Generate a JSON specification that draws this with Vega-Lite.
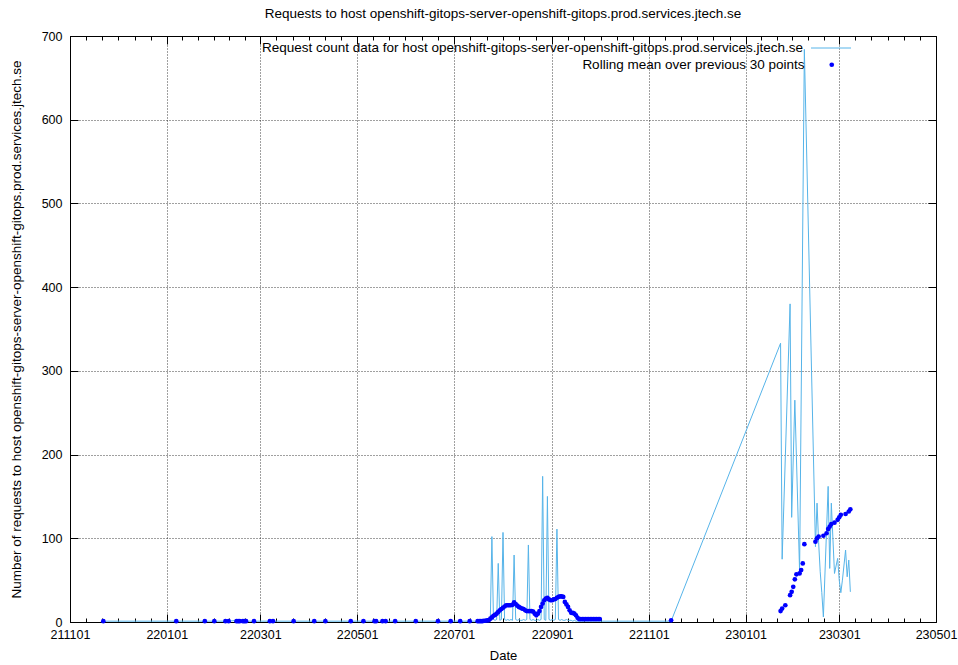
{
  "$schema": "https://vega.github.io/schema/vega-lite/v6.json",
  "width": 866,
  "height": 586,
  "autosize": {"type": "none"},
  "padding": {"left": 70, "top": 36, "right": 22, "bottom": 43},
  "background": "white",
  "title": {"text": "Requests to host openshift-gitops-server-openshift-gitops.prod.services.jtech.se", "fontSize": 13.5, "fontWeight": "normal", "font": "Liberation Sans", "color": "#000", "offset": 7, "anchor": "middle"},
  "datasets": {
    "counts": [
      {"date": "2021-11-22", "count": 1}, {"date": "2022-01-07", "count": 1}, {"date": "2022-01-25", "count": 1}, {"date": "2022-01-31", "count": 1},
      {"date": "2022-02-07", "count": 1}, {"date": "2022-02-09", "count": 1}, {"date": "2022-02-14", "count": 2}, {"date": "2022-02-15", "count": 1},
      {"date": "2022-02-16", "count": 1}, {"date": "2022-02-18", "count": 2}, {"date": "2022-02-19", "count": 1}, {"date": "2022-02-20", "count": 1},
      {"date": "2022-02-25", "count": 1}, {"date": "2022-03-07", "count": 1}, {"date": "2022-03-09", "count": 1}, {"date": "2022-03-22", "count": 1},
      {"date": "2022-04-04", "count": 1}, {"date": "2022-04-11", "count": 1}, {"date": "2022-04-27", "count": 1}, {"date": "2022-05-05", "count": 1},
      {"date": "2022-05-12", "count": 1}, {"date": "2022-05-13", "count": 1}, {"date": "2022-05-17", "count": 1}, {"date": "2022-05-19", "count": 1},
      {"date": "2022-05-25", "count": 1}, {"date": "2022-06-07", "count": 1}, {"date": "2022-06-21", "count": 1}, {"date": "2022-06-29", "count": 1},
      {"date": "2022-07-05", "count": 1}, {"date": "2022-07-11", "count": 1},
      {"date": "2022-07-16", "count": 1}, {"date": "2022-07-17", "count": 2}, {"date": "2022-07-18", "count": 1}, {"date": "2022-07-19", "count": 2},
      {"date": "2022-07-20", "count": 3}, {"date": "2022-07-21", "count": 2}, {"date": "2022-07-22", "count": 3}, {"date": "2022-07-23", "count": 2},
      {"date": "2022-07-24", "count": 3}, {"date": "2022-07-25", "count": 102}, {"date": "2022-07-26", "count": 3}, {"date": "2022-07-27", "count": 2},
      {"date": "2022-07-28", "count": 3}, {"date": "2022-07-29", "count": 70}, {"date": "2022-07-30", "count": 2}, {"date": "2022-07-31", "count": 3},
      {"date": "2022-08-01", "count": 107}, {"date": "2022-08-02", "count": 3}, {"date": "2022-08-03", "count": 2}, {"date": "2022-08-04", "count": 3},
      {"date": "2022-08-05", "count": 2}, {"date": "2022-08-06", "count": 3}, {"date": "2022-08-07", "count": 2}, {"date": "2022-08-08", "count": 80},
      {"date": "2022-08-09", "count": 3}, {"date": "2022-08-10", "count": 2}, {"date": "2022-08-11", "count": 3}, {"date": "2022-08-12", "count": 2},
      {"date": "2022-08-13", "count": 2}, {"date": "2022-08-14", "count": 3}, {"date": "2022-08-15", "count": 2}, {"date": "2022-08-16", "count": 3},
      {"date": "2022-08-17", "count": 92}, {"date": "2022-08-18", "count": 3}, {"date": "2022-08-19", "count": 2}, {"date": "2022-08-20", "count": 3},
      {"date": "2022-08-21", "count": 2}, {"date": "2022-08-22", "count": 2}, {"date": "2022-08-23", "count": 3}, {"date": "2022-08-24", "count": 2},
      {"date": "2022-08-25", "count": 3}, {"date": "2022-08-26", "count": 174}, {"date": "2022-08-27", "count": 3}, {"date": "2022-08-28", "count": 2},
      {"date": "2022-08-29", "count": 150}, {"date": "2022-08-30", "count": 3}, {"date": "2022-08-31", "count": 2}, {"date": "2022-09-01", "count": 3},
      {"date": "2022-09-02", "count": 2}, {"date": "2022-09-03", "count": 3}, {"date": "2022-09-04", "count": 111}, {"date": "2022-09-05", "count": 3},
      {"date": "2022-09-06", "count": 2}, {"date": "2022-09-07", "count": 3}, {"date": "2022-09-08", "count": 2}, {"date": "2022-09-09", "count": 2},
      {"date": "2022-09-10", "count": 3}, {"date": "2022-09-11", "count": 2}, {"date": "2022-09-12", "count": 2}, {"date": "2022-09-13", "count": 2},
      {"date": "2022-09-14", "count": 1}, {"date": "2022-09-15", "count": 2}, {"date": "2022-09-16", "count": 1}, {"date": "2022-09-17", "count": 1},
      {"date": "2022-09-18", "count": 1}, {"date": "2022-09-19", "count": 1}, {"date": "2022-09-20", "count": 1}, {"date": "2022-09-21", "count": 1},
      {"date": "2022-09-22", "count": 1}, {"date": "2022-09-23", "count": 1}, {"date": "2022-09-24", "count": 1}, {"date": "2022-09-25", "count": 1},
      {"date": "2022-09-26", "count": 1}, {"date": "2022-09-27", "count": 1}, {"date": "2022-09-28", "count": 1}, {"date": "2022-09-29", "count": 1},
      {"date": "2022-09-30", "count": 1}, {"date": "2022-10-01", "count": 1}, {"date": "2022-11-15", "count": 1},
      {"date": "2023-01-23", "count": 333}, {"date": "2023-01-24", "count": 75}, {"date": "2023-01-29", "count": 380}, {"date": "2023-01-30", "count": 125},
      {"date": "2023-02-01", "count": 265}, {"date": "2023-02-04", "count": 60}, {"date": "2023-02-07", "count": 684}, {"date": "2023-02-14", "count": 90},
      {"date": "2023-02-15", "count": 142}, {"date": "2023-02-16", "count": 95}, {"date": "2023-02-17", "count": 60}, {"date": "2023-02-18", "count": 35},
      {"date": "2023-02-19", "count": 6}, {"date": "2023-02-22", "count": 162}, {"date": "2023-02-23", "count": 64}, {"date": "2023-02-24", "count": 142},
      {"date": "2023-02-26", "count": 58}, {"date": "2023-02-28", "count": 76}, {"date": "2023-03-01", "count": 50}, {"date": "2023-03-02", "count": 35},
      {"date": "2023-03-03", "count": 50}, {"date": "2023-03-05", "count": 86}, {"date": "2023-03-06", "count": 54}, {"date": "2023-03-07", "count": 74},
      {"date": "2023-03-08", "count": 36}
    ],
    "means": [
      {"date": "2021-11-22", "mean": 1}, {"date": "2022-01-07", "mean": 1}, {"date": "2022-01-25", "mean": 1}, {"date": "2022-01-31", "mean": 1},
      {"date": "2022-02-07", "mean": 1}, {"date": "2022-02-09", "mean": 1}, {"date": "2022-02-14", "mean": 1}, {"date": "2022-02-15", "mean": 1},
      {"date": "2022-02-16", "mean": 1}, {"date": "2022-02-18", "mean": 1}, {"date": "2022-02-19", "mean": 1}, {"date": "2022-02-20", "mean": 1},
      {"date": "2022-02-25", "mean": 1}, {"date": "2022-03-07", "mean": 1}, {"date": "2022-03-09", "mean": 1}, {"date": "2022-03-22", "mean": 1},
      {"date": "2022-04-04", "mean": 1}, {"date": "2022-04-11", "mean": 1}, {"date": "2022-04-27", "mean": 1}, {"date": "2022-05-05", "mean": 1},
      {"date": "2022-05-12", "mean": 1}, {"date": "2022-05-13", "mean": 1}, {"date": "2022-05-17", "mean": 1}, {"date": "2022-05-19", "mean": 1},
      {"date": "2022-05-25", "mean": 1}, {"date": "2022-06-07", "mean": 1}, {"date": "2022-06-21", "mean": 1}, {"date": "2022-06-29", "mean": 1},
      {"date": "2022-07-05", "mean": 1}, {"date": "2022-07-11", "mean": 1},
      {"date": "2022-07-16", "mean": 1}, {"date": "2022-07-17", "mean": 1}, {"date": "2022-07-18", "mean": 1}, {"date": "2022-07-19", "mean": 1},
      {"date": "2022-07-20", "mean": 1.5}, {"date": "2022-07-21", "mean": 1.5}, {"date": "2022-07-22", "mean": 2}, {"date": "2022-07-23", "mean": 2},
      {"date": "2022-07-24", "mean": 4}, {"date": "2022-07-25", "mean": 5.5}, {"date": "2022-07-26", "mean": 7.5}, {"date": "2022-07-27", "mean": 8.5},
      {"date": "2022-07-28", "mean": 10}, {"date": "2022-07-29", "mean": 12}, {"date": "2022-07-30", "mean": 14}, {"date": "2022-07-31", "mean": 15.5},
      {"date": "2022-08-01", "mean": 17}, {"date": "2022-08-02", "mean": 18.5}, {"date": "2022-08-03", "mean": 20}, {"date": "2022-08-04", "mean": 20},
      {"date": "2022-08-05", "mean": 20}, {"date": "2022-08-06", "mean": 20}, {"date": "2022-08-07", "mean": 20.5}, {"date": "2022-08-08", "mean": 23.5},
      {"date": "2022-08-09", "mean": 21.5}, {"date": "2022-08-10", "mean": 19.5}, {"date": "2022-08-11", "mean": 18}, {"date": "2022-08-12", "mean": 17},
      {"date": "2022-08-13", "mean": 16}, {"date": "2022-08-14", "mean": 15.5}, {"date": "2022-08-15", "mean": 14}, {"date": "2022-08-16", "mean": 13},
      {"date": "2022-08-17", "mean": 13}, {"date": "2022-08-18", "mean": 13}, {"date": "2022-08-19", "mean": 13}, {"date": "2022-08-20", "mean": 12.5},
      {"date": "2022-08-21", "mean": 10}, {"date": "2022-08-22", "mean": 8}, {"date": "2022-08-23", "mean": 10}, {"date": "2022-08-24", "mean": 13},
      {"date": "2022-08-25", "mean": 18}, {"date": "2022-08-26", "mean": 22}, {"date": "2022-08-27", "mean": 26}, {"date": "2022-08-28", "mean": 28},
      {"date": "2022-08-29", "mean": 29}, {"date": "2022-08-30", "mean": 27}, {"date": "2022-08-31", "mean": 26}, {"date": "2022-09-01", "mean": 26},
      {"date": "2022-09-02", "mean": 27}, {"date": "2022-09-03", "mean": 27.5}, {"date": "2022-09-04", "mean": 29}, {"date": "2022-09-05", "mean": 30},
      {"date": "2022-09-06", "mean": 30.5}, {"date": "2022-09-07", "mean": 30.5}, {"date": "2022-09-08", "mean": 30}, {"date": "2022-09-09", "mean": 24},
      {"date": "2022-09-10", "mean": 21}, {"date": "2022-09-11", "mean": 18}, {"date": "2022-09-12", "mean": 14}, {"date": "2022-09-13", "mean": 11},
      {"date": "2022-09-14", "mean": 11}, {"date": "2022-09-15", "mean": 10}, {"date": "2022-09-16", "mean": 8}, {"date": "2022-09-17", "mean": 5},
      {"date": "2022-09-18", "mean": 3.5}, {"date": "2022-09-19", "mean": 3.5}, {"date": "2022-09-20", "mean": 3.5}, {"date": "2022-09-21", "mean": 3.5},
      {"date": "2022-09-22", "mean": 3.5}, {"date": "2022-09-23", "mean": 3.5}, {"date": "2022-09-24", "mean": 3.5}, {"date": "2022-09-25", "mean": 3.5},
      {"date": "2022-09-26", "mean": 3.5}, {"date": "2022-09-27", "mean": 3.5}, {"date": "2022-09-28", "mean": 3.5}, {"date": "2022-09-29", "mean": 3.5},
      {"date": "2022-09-30", "mean": 3.5}, {"date": "2022-10-01", "mean": 3.5}, {"date": "2022-11-15", "mean": 2},
      {"date": "2023-01-23", "mean": 13}, {"date": "2023-01-24", "mean": 16}, {"date": "2023-01-26", "mean": 20}, {"date": "2023-01-29", "mean": 32},
      {"date": "2023-01-30", "mean": 36}, {"date": "2023-01-31", "mean": 42}, {"date": "2023-02-01", "mean": 51}, {"date": "2023-02-02", "mean": 57},
      {"date": "2023-02-04", "mean": 58}, {"date": "2023-02-05", "mean": 62}, {"date": "2023-02-06", "mean": 70}, {"date": "2023-02-07", "mean": 93},
      {"date": "2023-02-14", "mean": 96}, {"date": "2023-02-15", "mean": 100}, {"date": "2023-02-16", "mean": 102}, {"date": "2023-02-19", "mean": 103},
      {"date": "2023-02-21", "mean": 106}, {"date": "2023-02-22", "mean": 111}, {"date": "2023-02-23", "mean": 114}, {"date": "2023-02-24", "mean": 117},
      {"date": "2023-02-26", "mean": 118.6}, {"date": "2023-02-28", "mean": 122}, {"date": "2023-03-01", "mean": 125}, {"date": "2023-03-02", "mean": 128},
      {"date": "2023-03-05", "mean": 129}, {"date": "2023-03-07", "mean": 132}, {"date": "2023-03-08", "mean": 134.6}
    ]
  },
  "layer": [
    {
      "data": {"name": "counts"},
      "mark": {"type": "line", "strokeWidth": 1, "interpolate": "linear"},
      "encoding": {
        "x": {"field": "date", "type": "temporal",
          "scale": {"type": "utc", "domain": [{"year": 2021, "month": 11, "date": 1, "utc": true}, {"year": 2023, "month": 5, "date": 1, "utc": true}]},
          "axis": {"orient": "bottom", "title": "Date", "titleFontSize": 13, "labelExpr": "utcFormat(datum.value, '%y%m%d')", "grid": true, "tickSize": -8, "labelPadding": 14, "titlePadding": 9,
            "values": [
              {"year": 2021, "month": 11, "date": 1, "utc": true}, {"year": 2022, "month": 1, "date": 1, "utc": true},
              {"year": 2022, "month": 3, "date": 1, "utc": true}, {"year": 2022, "month": 5, "date": 1, "utc": true},
              {"year": 2022, "month": 7, "date": 1, "utc": true}, {"year": 2022, "month": 9, "date": 1, "utc": true},
              {"year": 2022, "month": 11, "date": 1, "utc": true}, {"year": 2023, "month": 1, "date": 1, "utc": true},
              {"year": 2023, "month": 3, "date": 1, "utc": true}, {"year": 2023, "month": 5, "date": 1, "utc": true}
            ]}},
        "y": {"field": "count", "type": "quantitative",
          "scale": {"domain": [0, 700], "nice": false, "zero": true},
          "axis": {"orient": "left", "title": "Number of requests to host openshift-gitops-server-openshift-gitops.prod.services.jtech.se", "titleFontSize": 13.5, "values": [0, 100, 200, 300, 400, 500, 600, 700], "grid": true, "tickSize": -8, "labelPadding": 16, "titlePadding": 18}},
        "stroke": {"datum": "Request count data for host openshift-gitops-server-openshift-gitops.prod.services.jtech.se", "type": "nominal",
          "scale": {"range": ["#56b4e9"]},
          "legend": {"orient": "none", "legendX": 740.5, "legendY": -8.5, "title": null, "symbolType": "stroke", "symbolSize": 1600, "symbolStrokeWidth": 1, "symbolStrokeColor": "#56b4e9", "symbolOpacity": 1, "labelAlign": "right", "labelOffset": -48.5, "labelFontSize": 13.5, "labelFont": "Liberation Sans", "labelColor": "#000", "labelLimit": 2000, "padding": 0}}
      }
    },
    {
      "data": {"name": "means"},
      "mark": {"type": "point", "filled": true, "size": 22, "opacity": 1, "strokeWidth": 0},
      "encoding": {
        "x": {"field": "date", "type": "temporal",
          "scale": {"type": "utc", "domain": [{"year": 2021, "month": 11, "date": 1, "utc": true}, {"year": 2023, "month": 5, "date": 1, "utc": true}]},
          "axis": {"orient": "top", "title": null, "labels": false, "grid": false, "tickSize": -8,
            "values": [
              {"year": 2021, "month": 11, "date": 1, "utc": true}, {"year": 2022, "month": 1, "date": 1, "utc": true},
              {"year": 2022, "month": 3, "date": 1, "utc": true}, {"year": 2022, "month": 5, "date": 1, "utc": true},
              {"year": 2022, "month": 7, "date": 1, "utc": true}, {"year": 2022, "month": 9, "date": 1, "utc": true},
              {"year": 2022, "month": 11, "date": 1, "utc": true}, {"year": 2023, "month": 1, "date": 1, "utc": true},
              {"year": 2023, "month": 3, "date": 1, "utc": true}, {"year": 2023, "month": 5, "date": 1, "utc": true}
            ]}},
        "y": {"field": "mean", "type": "quantitative",
          "scale": {"domain": [0, 700], "nice": false, "zero": true},
          "axis": {"orient": "right", "title": null, "labels": false, "grid": false, "tickSize": -8, "values": [0, 100, 200, 300, 400, 500, 600, 700]}},
        "color": {"datum": "Rolling mean over previous 30 points", "type": "nominal",
          "scale": {"range": ["#0000ff"]},
          "legend": {"orient": "none", "legendX": 755, "legendY": 22, "title": null, "symbolType": "circle", "symbolSize": 22, "symbolStrokeWidth": 0, "symbolFillColor": "#0000ff", "symbolOpacity": 1, "labelAlign": "right", "labelOffset": -34, "labelFontSize": 13.5, "labelFont": "Liberation Sans", "labelColor": "#000", "labelLimit": 2000, "padding": 0}}
      }
    },
    {
      "data": {"name": "counts"},
      "mark": {"type": "point", "opacity": 0},
      "encoding": {
        "x": {"field": "date", "type": "temporal",
          "scale": {"type": "utc", "domain": [{"year": 2021, "month": 11, "date": 1, "utc": true}, {"year": 2023, "month": 5, "date": 1, "utc": true}]},
          "axis": {"orient": "bottom", "title": null, "labels": false, "grid": false, "tickSize": -4,
            "values": [
              {"year": 2021, "month": 11, "date": 11, "hours": 4, "utc": true}, {"year": 2021, "month": 11, "date": 21, "hours": 8, "utc": true},
              {"year": 2021, "month": 12, "date": 1, "hours": 12, "utc": true}, {"year": 2021, "month": 12, "date": 11, "hours": 16, "utc": true},
              {"year": 2021, "month": 12, "date": 21, "hours": 20, "utc": true},
              {"year": 2022, "month": 1, "date": 10, "hours": 20, "utc": true}, {"year": 2022, "month": 1, "date": 20, "hours": 16, "utc": true},
              {"year": 2022, "month": 1, "date": 30, "hours": 12, "utc": true}, {"year": 2022, "month": 2, "date": 9, "hours": 8, "utc": true},
              {"year": 2022, "month": 2, "date": 19, "hours": 4, "utc": true},
              {"year": 2022, "month": 3, "date": 11, "hours": 4, "utc": true}, {"year": 2022, "month": 3, "date": 21, "hours": 8, "utc": true},
              {"year": 2022, "month": 3, "date": 31, "hours": 12, "utc": true}, {"year": 2022, "month": 4, "date": 10, "hours": 16, "utc": true},
              {"year": 2022, "month": 4, "date": 20, "hours": 20, "utc": true},
              {"year": 2022, "month": 5, "date": 11, "hours": 4, "utc": true}, {"year": 2022, "month": 5, "date": 21, "hours": 8, "utc": true},
              {"year": 2022, "month": 5, "date": 31, "hours": 12, "utc": true}, {"year": 2022, "month": 6, "date": 10, "hours": 16, "utc": true},
              {"year": 2022, "month": 6, "date": 20, "hours": 20, "utc": true},
              {"year": 2022, "month": 7, "date": 11, "hours": 8, "utc": true}, {"year": 2022, "month": 7, "date": 21, "hours": 16, "utc": true},
              {"year": 2022, "month": 8, "date": 1, "hours": 0, "utc": true}, {"year": 2022, "month": 8, "date": 11, "hours": 8, "utc": true},
              {"year": 2022, "month": 8, "date": 21, "hours": 16, "utc": true},
              {"year": 2022, "month": 9, "date": 11, "hours": 4, "utc": true}, {"year": 2022, "month": 9, "date": 21, "hours": 8, "utc": true},
              {"year": 2022, "month": 10, "date": 1, "hours": 12, "utc": true}, {"year": 2022, "month": 10, "date": 11, "hours": 16, "utc": true},
              {"year": 2022, "month": 10, "date": 21, "hours": 20, "utc": true},
              {"year": 2022, "month": 11, "date": 11, "hours": 4, "utc": true}, {"year": 2022, "month": 11, "date": 21, "hours": 8, "utc": true},
              {"year": 2022, "month": 12, "date": 1, "hours": 12, "utc": true}, {"year": 2022, "month": 12, "date": 11, "hours": 16, "utc": true},
              {"year": 2022, "month": 12, "date": 21, "hours": 20, "utc": true},
              {"year": 2023, "month": 1, "date": 10, "hours": 20, "utc": true}, {"year": 2023, "month": 1, "date": 20, "hours": 16, "utc": true},
              {"year": 2023, "month": 1, "date": 30, "hours": 12, "utc": true}, {"year": 2023, "month": 2, "date": 9, "hours": 8, "utc": true},
              {"year": 2023, "month": 2, "date": 19, "hours": 4, "utc": true},
              {"year": 2023, "month": 3, "date": 11, "hours": 4, "utc": true}, {"year": 2023, "month": 3, "date": 21, "hours": 8, "utc": true},
              {"year": 2023, "month": 3, "date": 31, "hours": 12, "utc": true}, {"year": 2023, "month": 4, "date": 10, "hours": 16, "utc": true},
              {"year": 2023, "month": 4, "date": 20, "hours": 20, "utc": true}
            ]}}
      }
    },
    {
      "data": {"name": "counts"},
      "mark": {"type": "point", "opacity": 0},
      "encoding": {
        "x": {"field": "date", "type": "temporal",
          "scale": {"type": "utc", "domain": [{"year": 2021, "month": 11, "date": 1, "utc": true}, {"year": 2023, "month": 5, "date": 1, "utc": true}]},
          "axis": {"orient": "top", "title": null, "labels": false, "grid": false, "tickSize": -4,
            "values": [
              {"year": 2021, "month": 11, "date": 11, "hours": 4, "utc": true}, {"year": 2021, "month": 11, "date": 21, "hours": 8, "utc": true},
              {"year": 2021, "month": 12, "date": 1, "hours": 12, "utc": true}, {"year": 2021, "month": 12, "date": 11, "hours": 16, "utc": true},
              {"year": 2021, "month": 12, "date": 21, "hours": 20, "utc": true},
              {"year": 2022, "month": 1, "date": 10, "hours": 20, "utc": true}, {"year": 2022, "month": 1, "date": 20, "hours": 16, "utc": true},
              {"year": 2022, "month": 1, "date": 30, "hours": 12, "utc": true}, {"year": 2022, "month": 2, "date": 9, "hours": 8, "utc": true},
              {"year": 2022, "month": 2, "date": 19, "hours": 4, "utc": true},
              {"year": 2022, "month": 3, "date": 11, "hours": 4, "utc": true}, {"year": 2022, "month": 3, "date": 21, "hours": 8, "utc": true},
              {"year": 2022, "month": 3, "date": 31, "hours": 12, "utc": true}, {"year": 2022, "month": 4, "date": 10, "hours": 16, "utc": true},
              {"year": 2022, "month": 4, "date": 20, "hours": 20, "utc": true},
              {"year": 2022, "month": 5, "date": 11, "hours": 4, "utc": true}, {"year": 2022, "month": 5, "date": 21, "hours": 8, "utc": true},
              {"year": 2022, "month": 5, "date": 31, "hours": 12, "utc": true}, {"year": 2022, "month": 6, "date": 10, "hours": 16, "utc": true},
              {"year": 2022, "month": 6, "date": 20, "hours": 20, "utc": true},
              {"year": 2022, "month": 7, "date": 11, "hours": 8, "utc": true}, {"year": 2022, "month": 7, "date": 21, "hours": 16, "utc": true},
              {"year": 2022, "month": 8, "date": 1, "hours": 0, "utc": true}, {"year": 2022, "month": 8, "date": 11, "hours": 8, "utc": true},
              {"year": 2022, "month": 8, "date": 21, "hours": 16, "utc": true},
              {"year": 2022, "month": 9, "date": 11, "hours": 4, "utc": true}, {"year": 2022, "month": 9, "date": 21, "hours": 8, "utc": true},
              {"year": 2022, "month": 10, "date": 1, "hours": 12, "utc": true}, {"year": 2022, "month": 10, "date": 11, "hours": 16, "utc": true},
              {"year": 2022, "month": 10, "date": 21, "hours": 20, "utc": true},
              {"year": 2022, "month": 11, "date": 11, "hours": 4, "utc": true}, {"year": 2022, "month": 11, "date": 21, "hours": 8, "utc": true},
              {"year": 2022, "month": 12, "date": 1, "hours": 12, "utc": true}, {"year": 2022, "month": 12, "date": 11, "hours": 16, "utc": true},
              {"year": 2022, "month": 12, "date": 21, "hours": 20, "utc": true},
              {"year": 2023, "month": 1, "date": 10, "hours": 20, "utc": true}, {"year": 2023, "month": 1, "date": 20, "hours": 16, "utc": true},
              {"year": 2023, "month": 1, "date": 30, "hours": 12, "utc": true}, {"year": 2023, "month": 2, "date": 9, "hours": 8, "utc": true},
              {"year": 2023, "month": 2, "date": 19, "hours": 4, "utc": true},
              {"year": 2023, "month": 3, "date": 11, "hours": 4, "utc": true}, {"year": 2023, "month": 3, "date": 21, "hours": 8, "utc": true},
              {"year": 2023, "month": 3, "date": 31, "hours": 12, "utc": true}, {"year": 2023, "month": 4, "date": 10, "hours": 16, "utc": true},
              {"year": 2023, "month": 4, "date": 20, "hours": 20, "utc": true}
            ]}}
      }
    }
  ],
  "resolve": {"axis": {"x": "independent", "y": "independent"}},
  "config": {
    "font": "Liberation Sans",
    "view": {"stroke": "#000", "strokeWidth": 1},
    "axis": {"labelFont": "Liberation Sans", "labelFontSize": 12.5, "labelColor": "#000", "titleFont": "Liberation Sans", "titleFontSize": 13, "titleFontWeight": "normal", "titleColor": "#000", "tickColor": "#000", "tickWidth": 1, "domain": false, "gridColor": "#000", "gridOpacity": 0.75, "gridDash": [1, 2], "gridWidth": 1, "labelFlush": false, "labelOverlap": false}
  }
}
